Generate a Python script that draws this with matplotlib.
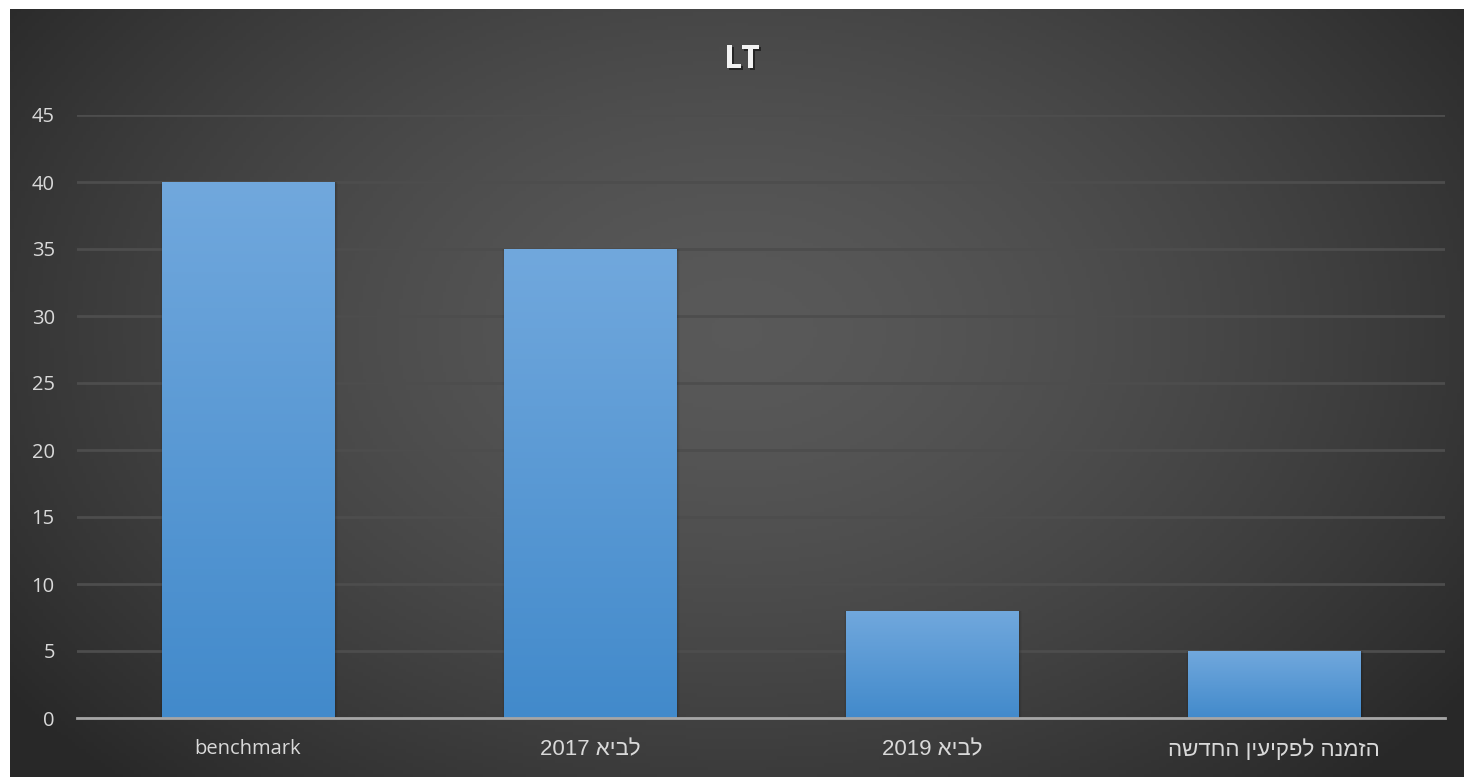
import matplotlib.pyplot as plt
import matplotlib.patheffects as pe
import numpy as np

categories = ['benchmark', 'לביא 2017', 'לביא 2019', 'הזמנה לפקיעין החדשה']
values = [40, 35, 8, 5]
yticks = [0, 5, 10, 15, 20, 25, 30, 35, 40, 45]
title = 'LT'


def is_hebrew(text):
    return any('\u0590' <= c <= '\u05ff' for c in text)


def visual_order(text):
    # matplotlib has no bidi, so reverse the hebrew runs by hand
    if not is_hebrew(text):
        return text
    tokens = text.split(' ')[::-1]
    tokens = [t[::-1] if is_hebrew(t) else t for t in tokens]
    return ' '.join(tokens)


W, H = 1464, 777
fig = plt.figure(figsize=(W / 100, H / 100), dpi=100, facecolor='white')

# light strip on the left edge
strip = fig.add_axes([0, 0, 10 / W, 1])
strip.set_facecolor('#efefef')
strip.axis('off')

# dark radial gradient panel
bg = fig.add_axes([10 / W, 0, (W - 10) / W, (H - 9) / H])
bg.axis('off')
gx, gy = np.meshgrid(np.linspace(0, 1, 400), np.linspace(0, 1, 220))
r = np.sqrt(((gx - 0.5) / 0.62) ** 2 + ((gy - 0.42) / 0.8) ** 2)
r = np.clip(r, 0, 1)
shade = 0.35 - 0.19 * r ** 1.5
bg.imshow(np.dstack([shade] * 3), extent=[0, 1, 0, 1], aspect='auto', origin='upper')
bg.set_xlim(0, 1)
bg.set_ylim(0, 1)

ax = fig.add_axes([77 / W, 1 - 718 / H, 1368 / W, (718 - 115) / H])
ax.patch.set_alpha(0)
x = np.arange(len(categories))
bars = ax.bar(x, values, width=0.503, color='none', zorder=3)

grad = np.linspace(0, 1, 256).reshape(-1, 1)
top = np.array([113, 168, 221]) / 255
bottom = np.array([66, 138, 203]) / 255
img = (bottom + (top - bottom) * grad[:, :, None] * np.ones((1, 1, 3))).reshape(256, 1, 3)
for b in bars:
    bx, by = b.get_x(), b.get_y()
    bw, bh = b.get_width(), b.get_height()
    # soft shadow, a bit to the right
    for k, a in enumerate([0.09, 0.06, 0.03]):
        ax.bar(bx + bw / 2 + 0.004, bh, width=bw + 0.006 * (k + 1), color='black', alpha=a, zorder=2)
    im = ax.imshow(img, extent=[bx, bx + bw, by, by + bh], aspect='auto', origin='lower', zorder=3)
    im.set_clip_path(b)

ax.set_xlim(-0.5, len(categories) - 0.5)
ax.set_ylim(0, 45)
ax.set_yticks(yticks)
ax.grid(axis='y', color='#4d4d4d', linewidth=2, zorder=1)
ax.set_axisbelow(True)
for s in ['top', 'right', 'left']:
    ax.spines[s].set_visible(False)
ax.spines['bottom'].set_color('#a6a6a6')
ax.spines['bottom'].set_linewidth(2)
ax.spines['bottom'].set_zorder(4)
ax.tick_params(axis='both', length=0, colors='#d9d9d9')
ax.tick_params(axis='y', pad=16)
ax.tick_params(axis='x', pad=15)
ax.set_xticks(x)
ax.set_xticklabels([visual_order(c) for c in categories])
for t in ax.get_yticklabels():
    t.set_fontfamily(['Open Sans', 'DejaVu Sans'])
    t.set_fontsize(14.5)
for t, c in zip(ax.get_xticklabels(), categories):
    if is_hebrew(c):
        t.set_fontfamily(['Liberation Sans', 'DejaVu Sans'])
        t.set_fontsize(16)
    else:
        t.set_fontfamily(['Open Sans', 'DejaVu Sans'])
        t.set_fontsize(14.5)

fig.text(742 / W, 1 - 59 / H, title, ha='center', va='center', fontsize=23, fontweight='bold',
         color='#f2f2f2', family=['Open Sans', 'DejaVu Sans'],
         path_effects=[pe.withSimplePatchShadow(offset=(1.5, -1.5), shadow_rgbFace='black', alpha=0.5), pe.Normal()])

fig.savefig('out.png', dpi=100)
